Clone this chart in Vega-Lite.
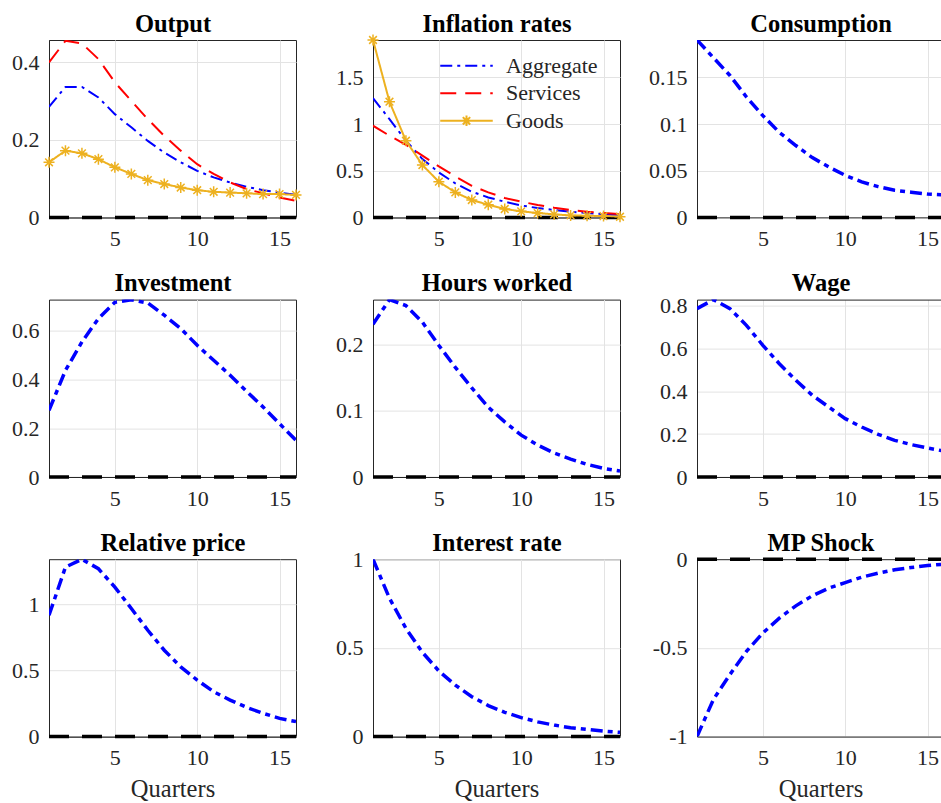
{
  "$schema": "https://vega.github.io/schema/vega-lite/v6.json",
  "background": "white",
  "padding": {"left": 11, "top": 10, "right": 0, "bottom": 0},
  "columns": 3,
  "spacing": {"row": 81.6, "column": 77},
  "bounds": "flush",
  "resolve": {
    "scale": {"x": "independent", "y": "independent", "color": "independent", "strokeDash": "independent"},
    "legend": {"color": "independent", "strokeDash": "independent"}
  },
  "concat": [
    {
      "width": 247, "height": 177.4,
      "view": {"stroke": "#262626"},
      "resolve": {"axis": {"x": "independent"}},
      "layer": [
        {
          "data": {"values": [{}]},
          "mark": {"type": "rule", "color": "black", "strokeWidth": 3.5, "strokeDash": [20, 13]},
          "encoding": {
            "x": {"datum": 1, "type": "quantitative", "scale": {"domain": [1, 16], "nice": false},
              "axis": {"orient": "top", "labels": false, "grid": false, "ticks": false, "domain": false, "title": "Output", "titleFontWeight": "bold", "titleColor": "#000000", "titlePadding": 9, "titleBaseline": "alphabetic"}},
            "x2": {"datum": 16},
            "y": {"datum": 0, "type": "quantitative", "scale": {"domain": [0, 0.457], "nice": false}}
          }
        },
        {
          "data": {"name": "output"},
          "mark": {"type": "line", "strokeWidth": 2, "clip": true},
          "encoding": {
            "x": {"field": "q", "type": "quantitative", "scale": {"domain": [1, 16], "nice": false},
              "axis": {"values": [5, 10, 15], "grid": true, "ticks": false, "labelPadding": 11, "title": null, "labelExpr": "'' + datum.value"}},
            "y": {"field": "v", "type": "quantitative", "scale": {"domain": [0, 0.457], "nice": false},
              "axis": {"values": [0, 0.2, 0.4], "grid": true, "ticks": false, "labelPadding": 10, "title": null, "labelExpr": "'' + datum.value"}},
            "color": {"field": "series", "type": "nominal", "legend": null,
              "scale": {"domain": ["Aggregate", "Services", "Goods"], "range": ["#0000ff", "#ff0000", "#edb120"]}},
            "strokeDash": {"field": "series", "type": "nominal", "legend": null,
              "scale": {"domain": ["Aggregate", "Services", "Goods"], "range": [[12, 5, 3, 5], [16, 9], [1, 0]]}}
          }
        },
        {
          "data": {"name": "output"},
          "transform": [{"filter": "datum.series === 'Goods'"}],
          "mark": {"type": "point", "shape": "M0,-1V1M-1,0H1M-0.7,-0.7L0.7,0.7M-0.7,0.7L0.7,-0.7", "filled": false, "size": 121, "strokeWidth": 1.5, "color": "#edb120", "opacity": 1},
          "encoding": {
            "x": {"field": "q", "type": "quantitative", "scale": {"domain": [1, 16], "nice": false}, "axis": null},
            "y": {"field": "v", "type": "quantitative", "scale": {"domain": [0, 0.457], "nice": false}}
          }
        }
      ]
    },
    {
      "width": 247, "height": 177.4,
      "view": {"stroke": "#262626"},
      "resolve": {"axis": {"x": "independent"}},
      "layer": [
        {
          "data": {"values": [{}]},
          "mark": {"type": "rule", "color": "black", "strokeWidth": 3.5, "strokeDash": [20, 13]},
          "encoding": {
            "x": {"datum": 1, "type": "quantitative", "scale": {"domain": [1, 16], "nice": false},
              "axis": {"orient": "top", "labels": false, "grid": false, "ticks": false, "domain": false, "title": "Inflation rates", "titleFontWeight": "bold", "titleColor": "#000000", "titlePadding": 9, "titleBaseline": "alphabetic"}},
            "x2": {"datum": 16},
            "y": {"datum": 0, "type": "quantitative", "scale": {"domain": [0, 1.9], "nice": false}}
          }
        },
        {
          "data": {"name": "inflation"},
          "mark": {"type": "line", "strokeWidth": 2, "clip": true},
          "encoding": {
            "x": {"field": "q", "type": "quantitative", "scale": {"domain": [1, 16], "nice": false},
              "axis": {"values": [5, 10, 15], "grid": true, "ticks": false, "labelPadding": 11, "title": null, "labelExpr": "'' + datum.value"}},
            "y": {"field": "v", "type": "quantitative", "scale": {"domain": [0, 1.9], "nice": false},
              "axis": {"values": [0, 0.5, 1, 1.5], "grid": true, "ticks": false, "labelPadding": 10, "title": null, "labelExpr": "'' + datum.value"}},
            "color": {"field": "series", "type": "nominal",
              "scale": {"domain": ["Aggregate", "Services", "Goods"], "range": ["#0000ff", "#ff0000", "#edb120"]},
              "legend": {
                "orient": "none", "legendX": 82, "legendY": 14.3, "title": null, "padding": 0,
                "labelFont": "Liberation Serif, Times New Roman, serif", "labelFontSize": 22, "labelColor": "#262626",
                "symbolSize": 441, "symbolStrokeWidth": 2, "labelOffset": 28, "rowPadding": 4.5,
                "symbolType": "M-2.5,0H2.5",
                "encode": {"symbols": {"update": {"shape": {"signal": "datum.value === 'Goods' ? 'M-2.5,0H2.5M0,-0.5V0.5M-0.5,0H0.5M-0.35,-0.35L0.35,0.35M-0.35,0.35L0.35,-0.35' : 'M-2.5,0H2.5'"}}}}
              }},
            "strokeDash": {"field": "series", "type": "nominal",
              "scale": {"domain": ["Aggregate", "Services", "Goods"], "range": [[12, 5, 3, 5], [16, 9], [1, 0]]}}
          }
        },
        {
          "data": {"name": "inflation"},
          "transform": [{"filter": "datum.series === 'Goods'"}],
          "mark": {"type": "point", "shape": "M0,-1V1M-1,0H1M-0.7,-0.7L0.7,0.7M-0.7,0.7L0.7,-0.7", "filled": false, "size": 121, "strokeWidth": 1.5, "color": "#edb120", "opacity": 1},
          "encoding": {
            "x": {"field": "q", "type": "quantitative", "scale": {"domain": [1, 16], "nice": false}, "axis": null},
            "y": {"field": "v", "type": "quantitative", "scale": {"domain": [0, 1.9], "nice": false}}
          }
        }
      ]
    },
    {
      "width": 244.6, "height": 177.4,
      "view": {"stroke": null},
      "resolve": {"axis": {"x": "independent"}},
      "layer": [
        {
          "data": {"values": [{}]},
          "mark": {"type": "rule", "color": "black", "strokeWidth": 3.5, "strokeDash": [20, 13]},
          "encoding": {
            "x": {"datum": 1, "type": "quantitative", "scale": {"domain": [1, 15.85], "nice": false},
              "axis": {"orient": "top", "labels": false, "grid": false, "ticks": false, "title": "Consumption", "titleX": 123.5, "titleFontWeight": "bold", "titleColor": "#000000", "titlePadding": 9, "titleBaseline": "alphabetic"}},
            "x2": {"datum": 15.85},
            "y": {"datum": 0, "type": "quantitative", "scale": {"domain": [0, 0.19], "nice": false}}
          }
        },
        {
          "data": {"name": "consumption"},
          "mark": {"type": "line", "color": "#0000ff", "strokeWidth": 3.5, "strokeDash": [12, 5, 5, 5], "clip": true},
          "encoding": {
            "x": {"field": "q", "type": "quantitative", "scale": {"domain": [1, 15.85], "nice": false},
              "axis": {"values": [5, 10, 15], "grid": true, "ticks": false, "labelPadding": 11, "title": null, "labelExpr": "'' + datum.value"}},
            "y": {"field": "v", "type": "quantitative", "scale": {"domain": [0, 0.19], "nice": false},
              "axis": {"values": [0, 0.05, 0.1, 0.15], "grid": true, "ticks": false, "labelPadding": 10, "title": null, "labelExpr": "'' + datum.value"}}
          }
        }
      ]
    },
    {
      "width": 247, "height": 177.4,
      "view": {"stroke": "#262626"},
      "resolve": {"axis": {"x": "independent"}},
      "layer": [
        {
          "data": {"values": [{}]},
          "mark": {"type": "rule", "color": "black", "strokeWidth": 3.5, "strokeDash": [20, 13]},
          "encoding": {
            "x": {"datum": 1, "type": "quantitative", "scale": {"domain": [1, 16], "nice": false},
              "axis": {"orient": "top", "labels": false, "grid": false, "ticks": false, "domain": false, "title": "Investment", "titleFontWeight": "bold", "titleColor": "#000000", "titlePadding": 9, "titleBaseline": "alphabetic"}},
            "x2": {"datum": 16},
            "y": {"datum": 0, "type": "quantitative", "scale": {"domain": [0, 0.729], "nice": false}}
          }
        },
        {
          "data": {"name": "investment"},
          "mark": {"type": "line", "color": "#0000ff", "strokeWidth": 3.5, "strokeDash": [12, 5, 5, 5], "clip": true},
          "encoding": {
            "x": {"field": "q", "type": "quantitative", "scale": {"domain": [1, 16], "nice": false},
              "axis": {"values": [5, 10, 15], "grid": true, "ticks": false, "labelPadding": 11, "title": null, "labelExpr": "'' + datum.value"}},
            "y": {"field": "v", "type": "quantitative", "scale": {"domain": [0, 0.729], "nice": false},
              "axis": {"values": [0, 0.2, 0.4, 0.6], "grid": true, "ticks": false, "labelPadding": 10, "title": null, "labelExpr": "'' + datum.value"}}
          }
        }
      ]
    },
    {
      "width": 247, "height": 177.4,
      "view": {"stroke": "#262626"},
      "resolve": {"axis": {"x": "independent"}},
      "layer": [
        {
          "data": {"values": [{}]},
          "mark": {"type": "rule", "color": "black", "strokeWidth": 3.5, "strokeDash": [20, 13]},
          "encoding": {
            "x": {"datum": 1, "type": "quantitative", "scale": {"domain": [1, 16], "nice": false},
              "axis": {"orient": "top", "labels": false, "grid": false, "ticks": false, "domain": false, "title": "Hours worked", "titleFontWeight": "bold", "titleColor": "#000000", "titlePadding": 9, "titleBaseline": "alphabetic"}},
            "x2": {"datum": 16},
            "y": {"datum": 0, "type": "quantitative", "scale": {"domain": [0, 0.267], "nice": false}}
          }
        },
        {
          "data": {"name": "hours"},
          "mark": {"type": "line", "color": "#0000ff", "strokeWidth": 3.5, "strokeDash": [12, 5, 5, 5], "clip": true},
          "encoding": {
            "x": {"field": "q", "type": "quantitative", "scale": {"domain": [1, 16], "nice": false},
              "axis": {"values": [5, 10, 15], "grid": true, "ticks": false, "labelPadding": 11, "title": null, "labelExpr": "'' + datum.value"}},
            "y": {"field": "v", "type": "quantitative", "scale": {"domain": [0, 0.267], "nice": false},
              "axis": {"values": [0, 0.1, 0.2], "grid": true, "ticks": false, "labelPadding": 10, "title": null, "labelExpr": "'' + datum.value"}}
          }
        }
      ]
    },
    {
      "width": 244.6, "height": 177.4,
      "view": {"stroke": null},
      "resolve": {"axis": {"x": "independent"}},
      "layer": [
        {
          "data": {"values": [{}]},
          "mark": {"type": "rule", "color": "black", "strokeWidth": 3.5, "strokeDash": [20, 13]},
          "encoding": {
            "x": {"datum": 1, "type": "quantitative", "scale": {"domain": [1, 15.85], "nice": false},
              "axis": {"orient": "top", "labels": false, "grid": false, "ticks": false, "title": "Wage", "titleX": 123.5, "titleFontWeight": "bold", "titleColor": "#000000", "titlePadding": 9, "titleBaseline": "alphabetic"}},
            "x2": {"datum": 15.85},
            "y": {"datum": 0, "type": "quantitative", "scale": {"domain": [0, 0.827], "nice": false}}
          }
        },
        {
          "data": {"name": "wage"},
          "mark": {"type": "line", "color": "#0000ff", "strokeWidth": 3.5, "strokeDash": [12, 5, 5, 5], "clip": true},
          "encoding": {
            "x": {"field": "q", "type": "quantitative", "scale": {"domain": [1, 15.85], "nice": false},
              "axis": {"values": [5, 10, 15], "grid": true, "ticks": false, "labelPadding": 11, "title": null, "labelExpr": "'' + datum.value"}},
            "y": {"field": "v", "type": "quantitative", "scale": {"domain": [0, 0.827], "nice": false},
              "axis": {"values": [0, 0.2, 0.4, 0.6, 0.8], "grid": true, "ticks": false, "labelPadding": 10, "title": null, "labelExpr": "'' + datum.value"}}
          }
        }
      ]
    },
    {
      "width": 247, "height": 177.4,
      "view": {"stroke": "#262626"},
      "resolve": {"axis": {"x": "independent"}},
      "layer": [
        {
          "data": {"values": [{}]},
          "mark": {"type": "rule", "color": "black", "strokeWidth": 3.5, "strokeDash": [20, 13]},
          "encoding": {
            "x": {"datum": 1, "type": "quantitative", "scale": {"domain": [1, 16], "nice": false},
              "axis": {"orient": "top", "labels": false, "grid": false, "ticks": false, "domain": false, "title": "Relative price", "titleFontWeight": "bold", "titleColor": "#000000", "titlePadding": 9, "titleBaseline": "alphabetic"}},
            "x2": {"datum": 16},
            "y": {"datum": 0, "type": "quantitative", "scale": {"domain": [0, 1.341], "nice": false}}
          }
        },
        {
          "data": {"name": "relprice"},
          "mark": {"type": "line", "color": "#0000ff", "strokeWidth": 3.5, "strokeDash": [12, 5, 5, 5], "clip": true},
          "encoding": {
            "x": {"field": "q", "type": "quantitative", "scale": {"domain": [1, 16], "nice": false},
              "axis": {"values": [5, 10, 15], "grid": true, "ticks": false, "labelPadding": 11, "title": "Quarters", "titlePadding": 9, "labelExpr": "'' + datum.value"}},
            "y": {"field": "v", "type": "quantitative", "scale": {"domain": [0, 1.341], "nice": false},
              "axis": {"values": [0, 0.5, 1], "grid": true, "ticks": false, "labelPadding": 10, "title": null, "labelExpr": "'' + datum.value"}}
          }
        }
      ]
    },
    {
      "width": 247, "height": 177.4,
      "view": {"stroke": "#262626"},
      "resolve": {"axis": {"x": "independent"}},
      "layer": [
        {
          "data": {"values": [{}]},
          "mark": {"type": "rule", "color": "black", "strokeWidth": 3.5, "strokeDash": [20, 13]},
          "encoding": {
            "x": {"datum": 1, "type": "quantitative", "scale": {"domain": [1, 16], "nice": false},
              "axis": {"orient": "top", "labels": false, "grid": false, "ticks": false, "domain": false, "title": "Interest rate", "titleFontWeight": "bold", "titleColor": "#000000", "titlePadding": 9, "titleBaseline": "alphabetic"}},
            "x2": {"datum": 16},
            "y": {"datum": 0, "type": "quantitative", "scale": {"domain": [0, 1], "nice": false}}
          }
        },
        {
          "data": {"name": "interest"},
          "mark": {"type": "line", "color": "#0000ff", "strokeWidth": 3.5, "strokeDash": [12, 5, 5, 5], "clip": true},
          "encoding": {
            "x": {"field": "q", "type": "quantitative", "scale": {"domain": [1, 16], "nice": false},
              "axis": {"values": [5, 10, 15], "grid": true, "ticks": false, "labelPadding": 11, "title": "Quarters", "titlePadding": 9, "labelExpr": "'' + datum.value"}},
            "y": {"field": "v", "type": "quantitative", "scale": {"domain": [0, 1], "nice": false},
              "axis": {"values": [0, 0.5, 1], "grid": true, "ticks": false, "labelPadding": 10, "title": null, "labelExpr": "'' + datum.value"}}
          }
        }
      ]
    },
    {
      "width": 244.6, "height": 177.4,
      "view": {"stroke": null},
      "resolve": {"axis": {"x": "independent"}},
      "layer": [
        {
          "data": {"values": [{}]},
          "mark": {"type": "rule", "color": "black", "strokeWidth": 3.5, "strokeDash": [20, 13]},
          "encoding": {
            "x": {"datum": 1, "type": "quantitative", "scale": {"domain": [1, 15.85], "nice": false},
              "axis": {"orient": "top", "labels": false, "grid": false, "ticks": false, "title": "MP Shock", "titleX": 123.5, "titleFontWeight": "bold", "titleColor": "#000000", "titlePadding": 9, "titleBaseline": "alphabetic"}},
            "x2": {"datum": 15.85},
            "y": {"datum": 0, "type": "quantitative", "scale": {"domain": [-1, 0], "nice": false}}
          }
        },
        {
          "data": {"name": "mpshock"},
          "mark": {"type": "line", "color": "#0000ff", "strokeWidth": 3.5, "strokeDash": [12, 5, 5, 5], "clip": true},
          "encoding": {
            "x": {"field": "q", "type": "quantitative", "scale": {"domain": [1, 15.85], "nice": false},
              "axis": {"values": [5, 10, 15], "grid": true, "ticks": false, "labelPadding": 11, "title": "Quarters", "titleX": 123.5, "titlePadding": 9, "labelExpr": "'' + datum.value"}},
            "y": {"field": "v", "type": "quantitative", "scale": {"domain": [-1, 0], "nice": false},
              "axis": {"values": [-1, -0.5, 0], "grid": true, "ticks": false, "labelPadding": 10, "title": null, "labelExpr": "'' + datum.value"}}
          }
        }
      ]
    }
  ],
  "datasets": {
    "output": [
      {"q": 1, "series": "Aggregate", "v": 0.285}, {"q": 2, "series": "Aggregate", "v": 0.336}, {"q": 3, "series": "Aggregate", "v": 0.336}, {"q": 4, "series": "Aggregate", "v": 0.309},
      {"q": 5, "series": "Aggregate", "v": 0.266}, {"q": 6, "series": "Aggregate", "v": 0.232}, {"q": 7, "series": "Aggregate", "v": 0.197}, {"q": 8, "series": "Aggregate", "v": 0.167},
      {"q": 9, "series": "Aggregate", "v": 0.142}, {"q": 10, "series": "Aggregate", "v": 0.120}, {"q": 11, "series": "Aggregate", "v": 0.103}, {"q": 12, "series": "Aggregate", "v": 0.090},
      {"q": 13, "series": "Aggregate", "v": 0.079}, {"q": 14, "series": "Aggregate", "v": 0.070}, {"q": 15, "series": "Aggregate", "v": 0.064}, {"q": 16, "series": "Aggregate", "v": 0.058},
      {"q": 1, "series": "Services", "v": 0.399}, {"q": 2, "series": "Services", "v": 0.455}, {"q": 3, "series": "Services", "v": 0.448}, {"q": 4, "series": "Services", "v": 0.408},
      {"q": 5, "series": "Services", "v": 0.348}, {"q": 6, "series": "Services", "v": 0.300}, {"q": 7, "series": "Services", "v": 0.253}, {"q": 8, "series": "Services", "v": 0.210},
      {"q": 9, "series": "Services", "v": 0.172}, {"q": 10, "series": "Services", "v": 0.137}, {"q": 11, "series": "Services", "v": 0.112}, {"q": 12, "series": "Services", "v": 0.090},
      {"q": 13, "series": "Services", "v": 0.073}, {"q": 14, "series": "Services", "v": 0.062}, {"q": 15, "series": "Services", "v": 0.051}, {"q": 16, "series": "Services", "v": 0.043},
      {"q": 1, "series": "Goods", "v": 0.142}, {"q": 2, "series": "Goods", "v": 0.172}, {"q": 3, "series": "Goods", "v": 0.165}, {"q": 4, "series": "Goods", "v": 0.150},
      {"q": 5, "series": "Goods", "v": 0.129}, {"q": 6, "series": "Goods", "v": 0.112}, {"q": 7, "series": "Goods", "v": 0.096}, {"q": 8, "series": "Goods", "v": 0.086},
      {"q": 9, "series": "Goods", "v": 0.077}, {"q": 10, "series": "Goods", "v": 0.070}, {"q": 11, "series": "Goods", "v": 0.066}, {"q": 12, "series": "Goods", "v": 0.064},
      {"q": 13, "series": "Goods", "v": 0.062}, {"q": 14, "series": "Goods", "v": 0.060}, {"q": 15, "series": "Goods", "v": 0.060}, {"q": 16, "series": "Goods", "v": 0.058}
    ],
    "inflation": [
      {"q": 1, "series": "Aggregate", "v": 1.278}, {"q": 2, "series": "Aggregate", "v": 1.053}, {"q": 3, "series": "Aggregate", "v": 0.821}, {"q": 4, "series": "Aggregate", "v": 0.625},
      {"q": 5, "series": "Aggregate", "v": 0.482}, {"q": 6, "series": "Aggregate", "v": 0.364}, {"q": 7, "series": "Aggregate", "v": 0.275}, {"q": 8, "series": "Aggregate", "v": 0.214},
      {"q": 9, "series": "Aggregate", "v": 0.168}, {"q": 10, "series": "Aggregate", "v": 0.128}, {"q": 11, "series": "Aggregate", "v": 0.100}, {"q": 12, "series": "Aggregate", "v": 0.079},
      {"q": 13, "series": "Aggregate", "v": 0.061}, {"q": 14, "series": "Aggregate", "v": 0.047}, {"q": 15, "series": "Aggregate", "v": 0.036}, {"q": 16, "series": "Aggregate", "v": 0.029},
      {"q": 1, "series": "Services", "v": 0.982}, {"q": 2, "series": "Services", "v": 0.875}, {"q": 3, "series": "Services", "v": 0.778}, {"q": 4, "series": "Services", "v": 0.661},
      {"q": 5, "series": "Services", "v": 0.546}, {"q": 6, "series": "Services", "v": 0.439}, {"q": 7, "series": "Services", "v": 0.339}, {"q": 8, "series": "Services", "v": 0.268},
      {"q": 9, "series": "Services", "v": 0.208}, {"q": 10, "series": "Services", "v": 0.168}, {"q": 11, "series": "Services", "v": 0.133}, {"q": 12, "series": "Services", "v": 0.104},
      {"q": 13, "series": "Services", "v": 0.079}, {"q": 14, "series": "Services", "v": 0.061}, {"q": 15, "series": "Services", "v": 0.047}, {"q": 16, "series": "Services", "v": 0.036},
      {"q": 1, "series": "Goods", "v": 1.900}, {"q": 2, "series": "Goods", "v": 1.239}, {"q": 3, "series": "Goods", "v": 0.821}, {"q": 4, "series": "Goods", "v": 0.561},
      {"q": 5, "series": "Goods", "v": 0.382}, {"q": 6, "series": "Goods", "v": 0.268}, {"q": 7, "series": "Goods", "v": 0.186}, {"q": 8, "series": "Goods", "v": 0.136},
      {"q": 9, "series": "Goods", "v": 0.090}, {"q": 10, "series": "Goods", "v": 0.065}, {"q": 11, "series": "Goods", "v": 0.047}, {"q": 12, "series": "Goods", "v": 0.032},
      {"q": 13, "series": "Goods", "v": 0.021}, {"q": 14, "series": "Goods", "v": 0.018}, {"q": 15, "series": "Goods", "v": 0.014}, {"q": 16, "series": "Goods", "v": 0.007}
    ],
    "consumption": [
      {"q": 1, "v": 0.190}, {"q": 2, "v": 0.171}, {"q": 3, "v": 0.152}, {"q": 4, "v": 0.129}, {"q": 5, "v": 0.109}, {"q": 6, "v": 0.091}, {"q": 7, "v": 0.077}, {"q": 8, "v": 0.064},
      {"q": 9, "v": 0.054}, {"q": 10, "v": 0.045}, {"q": 11, "v": 0.038}, {"q": 12, "v": 0.033}, {"q": 13, "v": 0.029}, {"q": 14, "v": 0.027}, {"q": 15, "v": 0.025}, {"q": 16, "v": 0.024}
    ],
    "investment": [
      {"q": 1, "v": 0.274}, {"q": 2, "v": 0.438}, {"q": 3, "v": 0.555}, {"q": 4, "v": 0.651}, {"q": 5, "v": 0.718}, {"q": 6, "v": 0.728}, {"q": 7, "v": 0.715}, {"q": 8, "v": 0.665},
      {"q": 9, "v": 0.610}, {"q": 10, "v": 0.541}, {"q": 11, "v": 0.480}, {"q": 12, "v": 0.418}, {"q": 13, "v": 0.352}, {"q": 14, "v": 0.288}, {"q": 15, "v": 0.219}, {"q": 16, "v": 0.151}
    ],
    "hours": [
      {"q": 1, "v": 0.230}, {"q": 2, "v": 0.267}, {"q": 3, "v": 0.258}, {"q": 4, "v": 0.233}, {"q": 5, "v": 0.198}, {"q": 6, "v": 0.165}, {"q": 7, "v": 0.134}, {"q": 8, "v": 0.105},
      {"q": 9, "v": 0.083}, {"q": 10, "v": 0.063}, {"q": 11, "v": 0.048}, {"q": 12, "v": 0.036}, {"q": 13, "v": 0.027}, {"q": 14, "v": 0.019}, {"q": 15, "v": 0.013}, {"q": 16, "v": 0.009}
    ],
    "wage": [
      {"q": 1, "v": 0.785}, {"q": 2, "v": 0.827}, {"q": 3, "v": 0.785}, {"q": 4, "v": 0.707}, {"q": 5, "v": 0.614}, {"q": 6, "v": 0.528}, {"q": 7, "v": 0.451}, {"q": 8, "v": 0.381},
      {"q": 9, "v": 0.326}, {"q": 10, "v": 0.272}, {"q": 11, "v": 0.233}, {"q": 12, "v": 0.199}, {"q": 13, "v": 0.171}, {"q": 14, "v": 0.151}, {"q": 15, "v": 0.135}, {"q": 16, "v": 0.121}
    ],
    "relprice": [
      {"q": 1, "v": 0.917}, {"q": 2, "v": 1.281}, {"q": 3, "v": 1.341}, {"q": 4, "v": 1.269}, {"q": 5, "v": 1.130}, {"q": 6, "v": 0.968}, {"q": 7, "v": 0.804}, {"q": 8, "v": 0.653},
      {"q": 9, "v": 0.527}, {"q": 10, "v": 0.427}, {"q": 11, "v": 0.339}, {"q": 12, "v": 0.276}, {"q": 13, "v": 0.221}, {"q": 14, "v": 0.176}, {"q": 15, "v": 0.138}, {"q": 16, "v": 0.113}
    ],
    "interest": [
      {"q": 1, "v": 1.000}, {"q": 2, "v": 0.780}, {"q": 3, "v": 0.610}, {"q": 4, "v": 0.475}, {"q": 5, "v": 0.370}, {"q": 6, "v": 0.290}, {"q": 7, "v": 0.225}, {"q": 8, "v": 0.175},
      {"q": 9, "v": 0.137}, {"q": 10, "v": 0.107}, {"q": 11, "v": 0.083}, {"q": 12, "v": 0.065}, {"q": 13, "v": 0.050}, {"q": 14, "v": 0.040}, {"q": 15, "v": 0.031}, {"q": 16, "v": 0.024}
    ],
    "mpshock": [
      {"q": 1, "v": -1.000}, {"q": 2, "v": -0.790}, {"q": 3, "v": -0.650}, {"q": 4, "v": -0.520}, {"q": 5, "v": -0.416}, {"q": 6, "v": -0.332}, {"q": 7, "v": -0.263}, {"q": 8, "v": -0.206},
      {"q": 9, "v": -0.163}, {"q": 10, "v": -0.132}, {"q": 11, "v": -0.101}, {"q": 12, "v": -0.079}, {"q": 13, "v": -0.060}, {"q": 14, "v": -0.047}, {"q": 15, "v": -0.036}, {"q": 16, "v": -0.028}
    ]
  },
  "config": {
    "font": "Liberation Serif, Times New Roman, serif",
    "axis": {
      "labelFont": "Liberation Serif, Times New Roman, serif", "labelFontSize": 22, "labelColor": "#262626",
      "domainColor": "#262626", "domainWidth": 1, "gridColor": "#e3e3e3", "gridWidth": 1,
      "titleFont": "Liberation Serif, Times New Roman, serif", "titleFontSize": 24.5, "titleFontWeight": "normal", "titleColor": "#262626"
    }
  }
}
